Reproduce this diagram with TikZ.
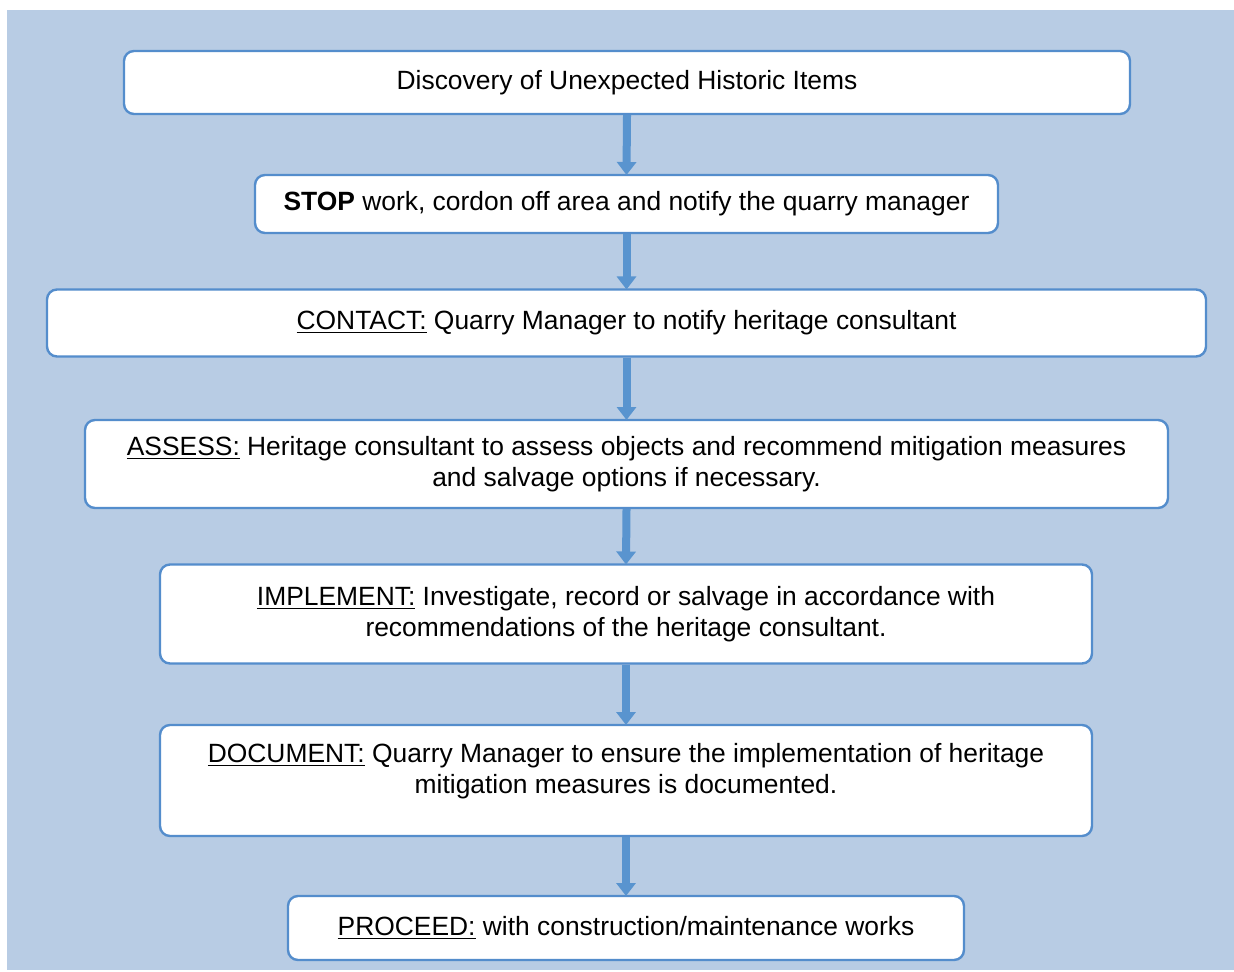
\documentclass[tikz,border=0pt]{standalone}
\usepackage{fontspec}
\setmainfont{Liberation Sans}
\usetikzlibrary{arrows.meta}
\definecolor{panelblue}{RGB}{184,204,228}
\definecolor{edgeblue}{RGB}{84,141,204}
\definecolor{arrowblue}{RGB}{89,148,207}

\begin{document}
\begin{tikzpicture}[x=0.5pt, y=-0.5pt,
	stagetext/.style={align=center, font=\fontsize{13.2}{15.5}\selectfont},
	stagebox/.style={draw=edgeblue, line width=1.2pt, fill=white,
		rounded corners=5pt, inner sep=0pt, stagetext},
	flowarrow/.style={-{Triangle[width=9.5pt, length=6.5pt]},
		line width=4pt, arrowblue, shorten >=-0.6pt}]

\useasboundingbox (0,0) rectangle (1234,972);
\fill[panelblue] (7,10) rectangle (1234,970);

\node[stagebox, minimum width=503pt, minimum height=31.5pt] (discovery) at (627,82.5)
	{Discovery of Unexpected Historic Items};
\node[stagebox, minimum width=371.5pt, minimum height=29pt] (stop) at (626.5,204)
	{\textbf{STOP} work, cordon off area and notify the quarry manager};
\node[stagebox, minimum width=579.5pt, minimum height=33.5pt] (contact) at (626.5,323)
	{\underline{CONTACT:} Quarry Manager to notify heritage consultant};
\node[stagebox, minimum width=541.5pt, minimum height=44pt] (assess) at (626.5,464)
	{\underline{ASSESS:} Heritage consultant to assess objects and recommend mitigation measures\\
	and salvage options if necessary.};
\node[stagebox, minimum width=466pt, minimum height=49.5pt] (implement) at (626,614)
	{\underline{IMPLEMENT:} Investigate, record or salvage in accordance with\\
	recommendations of the heritage consultant.};
\node[stagebox, minimum width=466pt, minimum height=55.5pt] (document) at (626,780.5)
	[label={[stagetext, yshift=4.5pt]center:\underline{DOCUMENT:} Quarry Manager to ensure the implementation of heritage\\
	mitigation measures is documented.}] {};
\node[stagebox, minimum width=338pt, minimum height=32pt] (proceed) at (626,928)
	{\underline{PROCEED:} with construction/maintenance works};

% arrows between the stages
\draw[flowarrow] (discovery.south) -- (stop.north);
\draw[flowarrow] (stop.south) -- (contact.north);
\draw[flowarrow] (contact.south) -- (assess.north);
\draw[flowarrow] (assess.south) -- (implement.north);
\draw[flowarrow] (implement.south) -- (document.north);
\draw[flowarrow] (document.south) -- (proceed.north);

\end{tikzpicture}
\end{document}
